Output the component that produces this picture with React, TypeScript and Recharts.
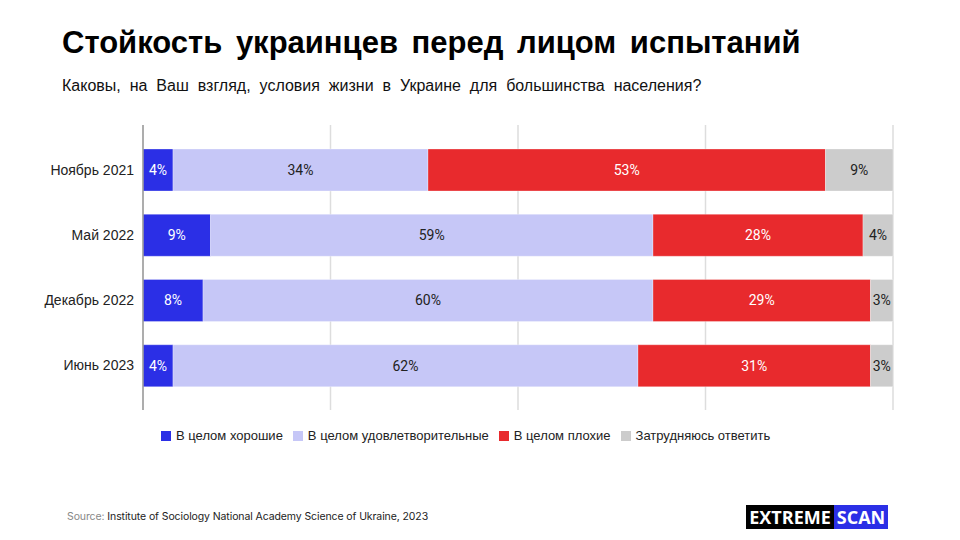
import { BarChart, Bar, XAxis, YAxis, CartesianGrid, LabelList } from 'recharts';

const periods = ['Ноябрь 2021', 'Май 2022', 'Декабрь 2022', 'Июнь 2023'];
const good = [4, 9, 8, 4];
const satisfactory = [34, 59, 60, 62];
const bad = [53, 28, 29, 31];
const unsure = [9, 4, 3, 3];

const seriesNames = ['В целом хорошие', 'В целом удовлетворительные', 'В целом плохие', 'Затрудняюсь ответить'];
const seriesColors = ['#2B2FE6', '#C6C7F7', '#E82A2D', '#CCCCCC'];
const labelColors = ['#ffffff', '#222222', '#ffffff', '#222222'];
const seriesKeys = ['good', 'satisfactory', 'bad', 'unsure'];
const xTicks = [0, 25, 50, 75, 100];

const data = periods.map((period, i) => ({
  period,
  good: good[i],
  satisfactory: satisfactory[i],
  bad: bad[i],
  unsure: unsure[i],
}));

const FONT = 'Arial, "Liberation Sans", sans-serif';

export default function App() {
  return (
    <div style={{ position: 'absolute', left: 0, top: 0, width: 960, height: 540, background: '#fff', fontFamily: FONT, overflow: 'hidden' }}>
      <div style={{ position: 'absolute', left: 62, top: 25, fontSize: 31, fontWeight: 700, color: '#000', wordSpacing: 5, whiteSpace: 'nowrap' }}>
        Стойкость украинцев перед лицом испытаний
      </div>
      <div style={{ position: 'absolute', left: 62, top: 77, fontSize: 16, color: '#111', wordSpacing: 4.5, whiteSpace: 'nowrap' }}>
        Каковы, на Ваш взгляд, условия жизни в Украине для большинства населения?
      </div>

      <div style={{ position: 'absolute', left: 0, top: 0 }}>
        <BarChart
          width={960}
          height={540}
          data={data}
          layout="vertical"
          margin={{ top: 125, right: 67, bottom: 130, left: 0 }}
          barSize={42}
        >
          <CartesianGrid horizontal={false} stroke="#DDDDDD" strokeWidth={1.5} />
          <XAxis type="number" domain={[0, 100]} ticks={xTicks} hide />
          <YAxis
            type="category"
            dataKey="period"
            width={143}
            padding={{ top: 12, bottom: 12 }}
            tickLine={false}
            axisLine={{ stroke: '#9A9A9A', strokeWidth: 1.5 }}
            tick={{ fill: '#222', fontSize: 14, fontFamily: FONT }}
            tickMargin={3}
          />
          {seriesKeys.map((key, i) => (
            <Bar
              key={key}
              dataKey={key}
              stackId="a"
              fill={seriesColors[i]}
              stroke="#ffffff"
              strokeOpacity={0.5}
              strokeWidth={0.6}
              isAnimationActive={false}
            >
              <LabelList
                dataKey={key}
                position="center"
                formatter={(v: any) => `${v}%`}
                fill={labelColors[i]}
                style={{ fontSize: 14, fontFamily: 'Roboto, sans-serif' }}
              />
            </Bar>
          ))}
        </BarChart>
      </div>

      <div style={{ position: 'absolute', left: 161, top: 428, display: 'flex', alignItems: 'center', fontSize: 13, color: '#222', whiteSpace: 'nowrap' }}>
        {seriesNames.map((name, i) => (
          <div key={name} style={{ display: 'flex', alignItems: 'center', marginRight: 10 }}>
            <span style={{ display: 'inline-block', width: 10, height: 10, background: seriesColors[i], marginRight: 5 }} />
            <span>{name}</span>
          </div>
        ))}
      </div>

      <div style={{ position: 'absolute', left: 67, top: 510, fontSize: 10.5, color: '#222', fontFamily: 'Inter, sans-serif', letterSpacing: -0.1, whiteSpace: 'nowrap' }}>
        <span style={{ color: '#888' }}>Source: </span>Institute of Sociology National Academy Science of Ukraine, 2023
      </div>

      <div style={{ position: 'absolute', left: 746, top: 505, height: 24, display: 'flex', fontFamily: '"Open Sans", sans-serif', fontWeight: 700, fontSize: 18, lineHeight: '24px' }}>
        <div style={{ background: '#000', color: '#fff', width: 88, textAlign: 'center' }}>EXTREME</div>
        <div style={{ background: '#2B2FE6', color: '#fff', width: 54, textAlign: 'center' }}>SCAN</div>
      </div>
    </div>
  );
}
